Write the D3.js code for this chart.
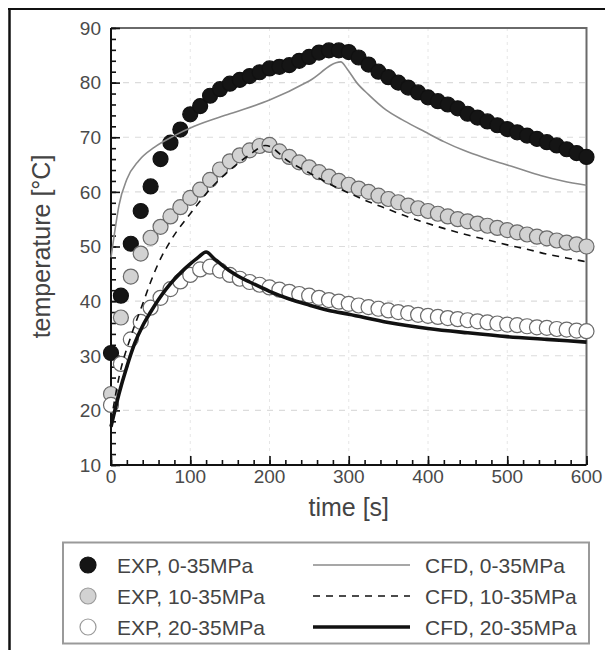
<!DOCTYPE html>
<html><head><meta charset="utf-8">
<script src="https://cdn.jsdelivr.net/npm/d3@7"></script>
<style>body{margin:0;background:#fff}svg{display:block}</style>
</head><body>
<svg id="c" width="605" height="650"></svg>
<script>
// ---------- data ----------
const times = [0,12.5,25,37.5,50,62.5,75,87.5,100,112.5,125,137.5,150,162.5,175,187.5,200,212.5,225,237.5,250,262.5,275,287.5,300,312.5,325,337.5,350,362.5,375,387.5,400,412.5,425,437.5,450,462.5,475,487.5,500,512.5,525,537.5,550,562.5,575,587.5,600];
const exp0 = [30.5,41,50.5,56.5,61,66,69,71.4,74.2,75.7,77.6,78.8,79.8,80.5,81.2,81.9,82.6,82.9,83.2,84,84.7,85.5,85.9,85.9,85.6,84.6,83.3,82,81,80,79.1,78.2,77.3,76.6,76,75.3,74.3,73.6,72.9,72.2,71.5,70.9,70.3,69.7,69.1,68.5,67.8,67.1,66.4];
const exp10 = [23,37,44.5,48.7,51.6,53.6,55.5,57.2,58.9,60.4,62.2,64.1,65.6,66.7,67.6,68.4,68.6,67.4,66.4,65.4,64.5,63.6,62.8,62,61.3,60.6,60,59.3,58.7,58.1,57.5,57,56.5,56,55.5,55,54.6,54.2,53.8,53.4,53,52.6,52.2,51.8,51.5,51.1,50.7,50.4,50];
const exp20 = [21,28.5,33,36.2,38.8,40.6,42.2,43.6,44.8,45.8,46.3,45.6,44.8,44.1,43.5,43,42.5,42.1,41.7,41.3,41,40.6,40.2,39.9,39.5,39.2,38.9,38.6,38.3,38,37.8,37.5,37.3,37.1,36.9,36.7,36.5,36.3,36.1,35.9,35.7,35.6,35.4,35.2,35.1,34.9,34.8,34.6,34.5];

const cfd0T = [0,5,10,20,35,55,80,105,150,200,250,290,298,310,325,347,370,396,420,445,470,494,520,542,570,600];
const cfd0V = [48,53,57.5,62.3,65.7,68.2,70.3,72,74.3,76.8,80.3,83.8,82.5,80,77.8,75,73,71,69.2,67.6,66.3,65.2,64,63,62,61.2];
const cfd10T = [0,10,25,40,50,60,75,100,125,150,175,195,225,250,275,300,325,350,375,400,425,450,475,500,525,550,575,600];
const cfd10V = [18,26,33.5,39.5,43.5,47,51,56,60.5,64,66.8,68.5,65.5,63.5,61.5,59.8,58.2,56.8,55.4,54.2,53.1,52.1,51.2,50.3,49.5,48.6,47.9,47.2];
const cfd20T = [0,10,20,30,40,50,60,70,80,90,100,110,120,130,140,150,160,175,200,225,250,275,300,350,400,450,500,550,600];
const cfd20V = [17,23,28,32.3,35.5,38,40.3,42.3,44,45.5,46.8,48,49,47.8,46.6,45.5,44.6,43.5,41.8,40.4,39.3,38.3,37.6,36.1,35,34.2,33.5,33,32.5];

const xTicks = [0,100,200,300,400,500,600];
const yTicks = [10,20,30,40,50,60,70,80,90];
const legendExp = ["EXP, 0-35MPa","EXP, 10-35MPa","EXP, 20-35MPa"];
const legendCfd = ["CFD, 0-35MPa","CFD, 10-35MPa","CFD, 20-35MPa"];

// ---------- drawing ----------
const svg = d3.select("#c");
const FONT = "'Liberation Sans', Arial, Helvetica, sans-serif";
const L = 111, R = 586.5, T = 28, B = 465;
const x = d3.scaleLinear().domain([0,600]).range([L,R]);
const y = d3.scaleLinear().domain([10,90]).range([B,T]);

// outer frame (top + left)
svg.append("line").attr("x1",8).attr("x2",605).attr("y1",9).attr("y2",9).attr("stroke","#111").attr("stroke-width",2);
svg.append("line").attr("x1",9.5).attr("x2",9.5).attr("y1",8).attr("y2",650).attr("stroke","#111").attr("stroke-width",2.5);

// grid
const g = svg.append("g");
g.selectAll("line.hg").data(yTicks.slice(1,-1)).join("line")
  .attr("x1",L).attr("x2",R).attr("y1",d=>y(d)).attr("y2",d=>y(d))
  .attr("stroke","#dcdcdc").attr("stroke-width",1.2).attr("stroke-dasharray","6,6");
g.selectAll("line.vg").data(xTicks.slice(1,-1)).join("line")
  .attr("y1",T).attr("y2",B).attr("x1",d=>x(d)).attr("x2",d=>x(d))
  .attr("stroke","#e6e6e6").attr("stroke-width",1).attr("stroke-dasharray","3,4");

// plot border (top/right gray)
svg.append("path").attr("d",`M${L},${T}H${R}V${B}`).attr("fill","none").attr("stroke","#6a6a6a").attr("stroke-width",2);

// axes with inward ticks
const yAxisMinor = d3.axisRight(y).tickValues(d3.range(10,90.1,2)).tickSize(5).tickFormat("");
const yAxisMajor = d3.axisRight(y).tickValues(yTicks).tickSize(9).tickFormat("");
const xAxisMinor = d3.axisTop(x).tickValues(d3.range(0,600.1,20)).tickSize(5).tickFormat("");
const xAxisMajor = d3.axisTop(x).tickValues(xTicks).tickSize(9).tickFormat("");
[yAxisMinor,yAxisMajor].forEach(a=>{
  const ga = svg.append("g").attr("transform",`translate(${L},0)`).call(a);
  ga.select(".domain").remove();
  ga.selectAll("line").attr("stroke","#111").attr("stroke-width",1.6);
});
[xAxisMinor,xAxisMajor].forEach(a=>{
  const ga = svg.append("g").attr("transform",`translate(0,${B})`).call(a);
  ga.select(".domain").remove();
  ga.selectAll("line").attr("stroke","#111").attr("stroke-width",1.6);
});
svg.append("path").attr("d",`M${L},${T}V${B}H${R}`).attr("fill","none").attr("stroke","#111").attr("stroke-width",2);

// tick labels
svg.selectAll("text.yl").data(yTicks).join("text")
  .attr("x",L-10).attr("y",d=>y(d)).attr("dy","0.36em").attr("text-anchor","end")
  .attr("font-family",FONT).attr("font-size",19).attr("fill","#4a4a4a").text(d=>d);
svg.selectAll("text.xl").data(xTicks).join("text")
  .attr("x",d=>x(d)).attr("y",B+18).attr("text-anchor","middle")
  .attr("font-family",FONT).attr("font-size",19).attr("fill","#4a4a4a").text(d=>d);

// axis titles
svg.append("text").attr("x",(L+R)/2).attr("y",516).attr("text-anchor","middle")
  .attr("font-family",FONT).attr("font-size",25).attr("fill","#444").text("time [s]");
svg.append("text").attr("transform",`translate(50,${(T+B)/2}) rotate(-90)`).attr("text-anchor","middle")
  .attr("font-family",FONT).attr("font-size",25).attr("fill","#444").text("temperature [°C]");

// markers
const styles = [
  {fill:"#151515", stroke:"#111"},
  {fill:"#d2d2d2", stroke:"#6a6a6a"},
  {fill:"#ffffff", stroke:"#6a6a6a"}
];
[exp0,exp10,exp20].forEach((vals,i)=>{
  svg.append("g").selectAll("circle").data(vals).join("circle")
    .attr("cx",(d,j)=>x(times[j])).attr("cy",d=>y(d)).attr("r",7.5)
    .attr("fill",styles[i].fill).attr("stroke",styles[i].stroke).attr("stroke-width",1.2);
});

// CFD lines
const line = d3.line().x(d=>x(d[0])).y(d=>y(d[1])).curve(d3.curveMonotoneX);
const zip = (a,b)=>a.map((t,i)=>[t,b[i]]);
const lineStyles = [
  {stroke:"#8a8a8a", w:1.6, dash:null},
  {stroke:"#111", w:1.6, dash:"7,6"},
  {stroke:"#111", w:3.6, dash:null}
];
[[cfd0T,cfd0V],[cfd10T,cfd10V],[cfd20T,cfd20V]].forEach(([t,v],i)=>{
  svg.append("path").attr("d",line(zip(t,v))).attr("fill","none")
    .attr("stroke",lineStyles[i].stroke).attr("stroke-width",lineStyles[i].w)
    .attr("stroke-dasharray",lineStyles[i].dash);
});

// legend
svg.append("rect").attr("x",63).attr("y",542.5).attr("width",526).attr("height",101)
  .attr("fill","#fff").attr("stroke","#9a9a9a").attr("stroke-width",2);
const rowsY = [565,596,627];
legendExp.forEach((txt,i)=>{
  svg.append("circle").attr("cx",88).attr("cy",rowsY[i]).attr("r",8)
    .attr("fill",styles[i].fill).attr("stroke",i===0?"#111":"#9a9a9a").attr("stroke-width",1.2);
  svg.append("text").attr("x",117).attr("y",rowsY[i]).attr("dy","0.36em")
    .attr("font-family",FONT).attr("font-size",21).attr("fill","#444").text(txt);
});
legendCfd.forEach((txt,i)=>{
  svg.append("line").attr("x1",313).attr("x2",410).attr("y1",rowsY[i]).attr("y2",rowsY[i])
    .attr("stroke",lineStyles[i].stroke).attr("stroke-width",lineStyles[i].w)
    .attr("stroke-dasharray",lineStyles[i].dash);
  svg.append("text").attr("x",425).attr("y",rowsY[i]).attr("dy","0.36em")
    .attr("font-family",FONT).attr("font-size",21).attr("fill","#444").text(txt);
});
</script>
</body></html>
